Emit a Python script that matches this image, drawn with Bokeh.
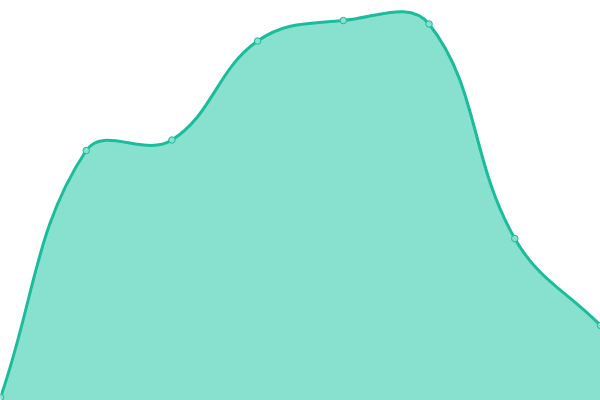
import math
from bokeh.plotting import figure
from bokeh.models import Range1d, ColumnDataSource
from bokeh.embed import file_html
from bokeh.resources import INLINE

# data
positions = [0, 1, 2, 3, 4, 5, 6, 7]
values = [3, 250, 260.5, 359.5, 380, 376.5, 162, 75]

W, H = 600, 400
XMIN, XMAX = 0, 7
YMIN, YMAX = 0, 400
TENSION = 0.4

LINE = "#1abc9c"
FILL = "#88e0cf"

sx = W / (XMAX - XMIN)
sy = H / (YMAX - YMIN)


def to_px(x, y):
    return (x - XMIN) * sx, (y - YMIN) * sy


def from_px(px, py):
    return px / sx + XMIN, py / sy + YMIN


pts = [to_px(x, y) for x, y in zip(positions, values)]
n = len(pts)
ctrl = []
for i in range(n):
    cur = pts[i]
    prev = pts[i - 1] if i > 0 else cur
    nxt = pts[i + 1] if i < n - 1 else cur
    d01 = math.hypot(cur[0] - prev[0], cur[1] - prev[1])
    d12 = math.hypot(nxt[0] - cur[0], nxt[1] - cur[1])
    tot = d01 + d12
    s01 = d01 / tot if tot else 0
    s12 = d12 / tot if tot else 0
    fa = TENSION * s01
    fb = TENSION * s12
    cp_prev = (cur[0] - fa * (nxt[0] - prev[0]), cur[1] - fa * (nxt[1] - prev[1]))
    cp_next = (cur[0] + fb * (nxt[0] - prev[0]), cur[1] + fb * (nxt[1] - prev[1]))
    cp_prev = (cp_prev[0], min(max(cp_prev[1], 0), H))
    cp_next = (cp_next[0], min(max(cp_next[1], 0), H))
    ctrl.append((cp_prev, cp_next))

bz = dict(x0=[], y0=[], x1=[], y1=[], cx0=[], cy0=[], cx1=[], cy1=[])
cx_s, cy_s = [], []
for i in range(n - 1):
    p0 = pts[i]
    p3 = pts[i + 1]
    c1 = ctrl[i][1]
    c2 = ctrl[i + 1][0]
    for key, pt in (("0", p0), ("1", p3)):
        dx, dy = from_px(*pt)
        bz["x" + key].append(dx)
        bz["y" + key].append(dy)
    a = from_px(*c1)
    b = from_px(*c2)
    bz["cx0"].append(a[0]); bz["cy0"].append(a[1])
    bz["cx1"].append(b[0]); bz["cy1"].append(b[1])
    steps = 40
    for k in range(steps + (1 if i == n - 2 else 0)):
        t = k / steps
        mt = 1 - t
        px = mt**3 * p0[0] + 3 * mt**2 * t * c1[0] + 3 * mt * t**2 * c2[0] + t**3 * p3[0]
        py = mt**3 * p0[1] + 3 * mt**2 * t * c1[1] + 3 * mt * t**2 * c2[1] + t**3 * p3[1]
        dx, dy = from_px(px, py)
        cx_s.append(dx)
        cy_s.append(dy)

p = figure(width=W, height=H, output_backend="svg", toolbar_location=None,
           x_range=Range1d(XMIN, XMAX), y_range=Range1d(YMIN, YMAX),
           min_border=0, min_border_left=0, min_border_right=0,
           min_border_top=0, min_border_bottom=0,
           styles={"position": "absolute", "left": "0px", "top": "0px"})
p.axis.visible = False
p.grid.visible = False
p.outline_line_color = None
p.background_fill_color = "white"
p.border_fill_color = "white"

p.varea(x=cx_s, y1=[YMIN] * len(cy_s), y2=cy_s, fill_color=FILL, fill_alpha=1)
p.bezier(source=ColumnDataSource(bz), x0="x0", y0="y0", x1="x1", y1="y1",
         cx0="cx0", cy0="cy0", cx1="cx1", cy1="cy1",
         line_color=LINE, line_width=3)
p.scatter(positions, values, size=6.5, fill_color=FILL, line_color=LINE, line_width=1)

open("out.html", "w").write(file_html(p, INLINE))
